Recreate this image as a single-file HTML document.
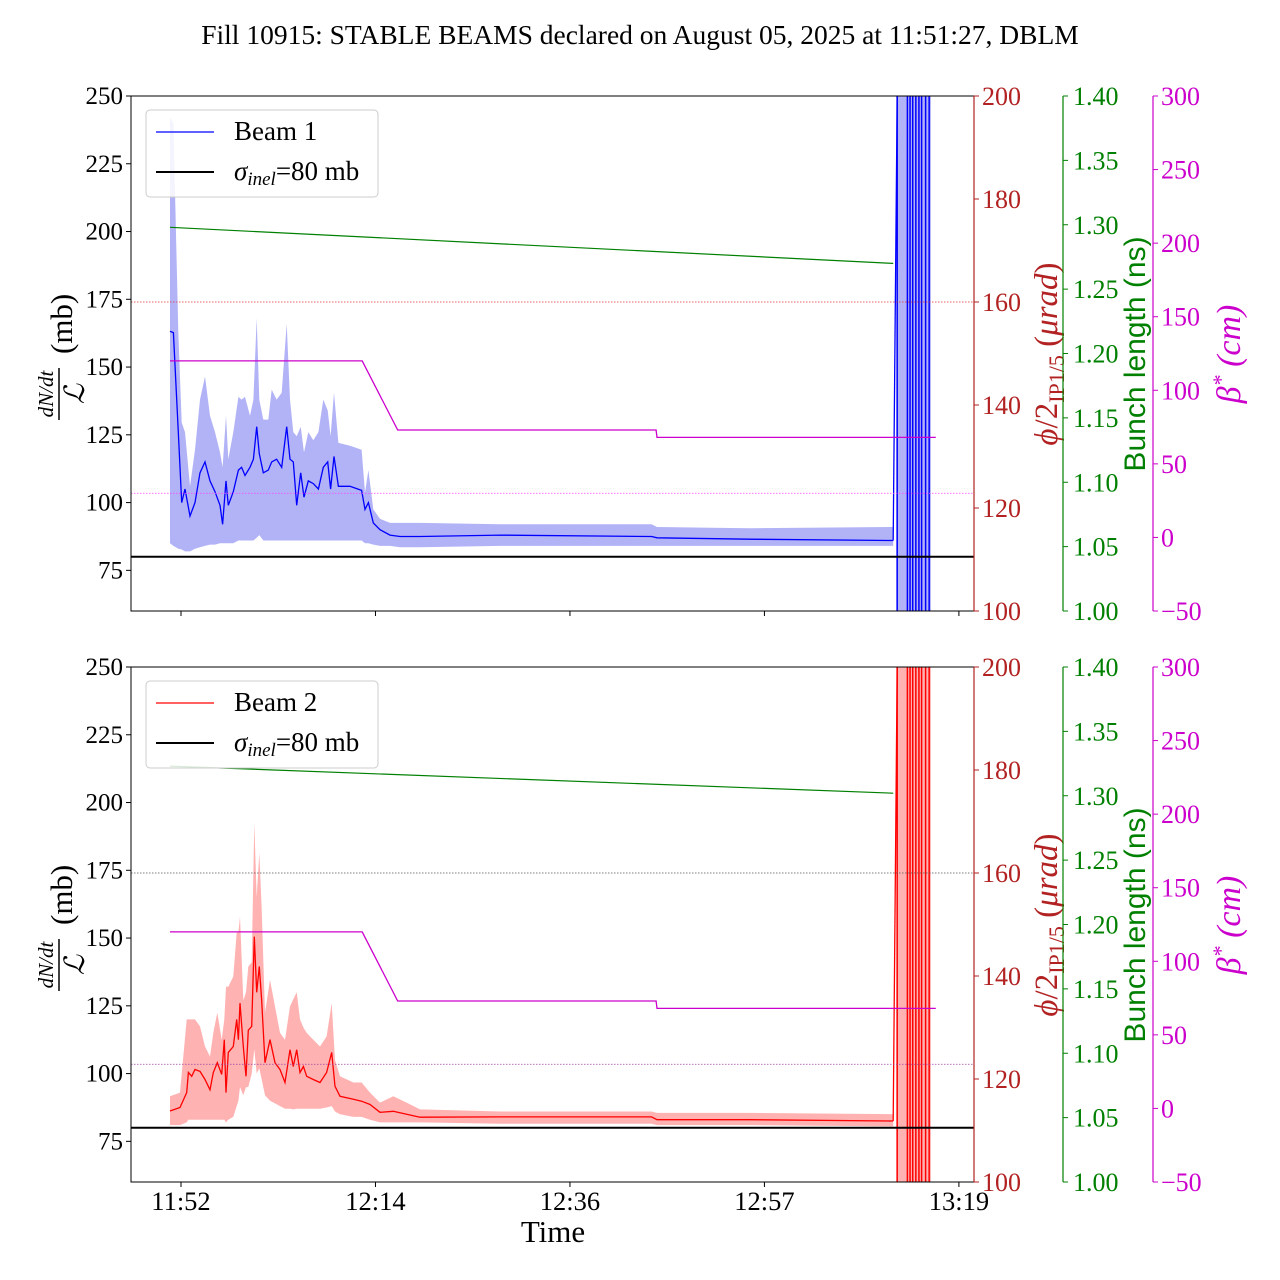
<!DOCTYPE html>
<html><head><meta charset="utf-8"><style>
html,body{margin:0;padding:0;background:#fff;}
svg{display:block;font-family:"Liberation Serif",serif;}
</style></head><body>
<svg id="chart" width="1280" height="1280" viewBox="0 0 1280 1280" xmlns="http://www.w3.org/2000/svg">
<text x="640" y="44" font-size="27.5" text-anchor="middle">Fill 10915: STABLE BEAMS declared on August 05, 2025 at 11:51:27, DBLM</text>
<g id="p1"></g>
<g id="p2"></g>
</svg>
<script>
// ---- data (time in minutes after 11:50) ----
const xTickVals = [2, 23.9, 45.8, 67.7, 89.6];
const xTickLabels = ["11:52", "12:14", "12:36", "12:57", "13:19"];
const leftTicks = [75, 100, 125, 150, 175, 200, 225, 250];
const phiTicks = [100, 120, 140, 160, 180, 200];
const blTicks = [1.00, 1.05, 1.10, 1.15, 1.20, 1.25, 1.30, 1.35, 1.40];
const betaTicks = [-50, 0, 50, 100, 150, 200, 250, 300];

const b1Time = [0.76,1.14,1.70,2.08,2.45,3.01,3.58,4.14,4.70,5.27,5.83,6.39,6.69,7.07,7.33,7.89,8.46,8.83,9.21,9.77,10.15,10.52,10.82,11.27,11.83,12.21,12.77,13.34,13.90,14.27,14.65,15.03,15.48,15.85,16.34,16.90,17.47,18.03,18.52,18.85,19.23,19.72,21.03,22.34,22.72,23.10,23.66,24.41,25.54,26.66,28.91,38,55,55.6,66,82.2];
const b1Mean = [163.2,162.7,126,100,105,95,100,111,115,108,104,99,92,108,99,104,112,113,110,113,116,128,118,111,112,115,116,113,128,116,115,99,111,102,108,107,105,113,115,105,117,106,106,104.5,97.5,100,92.5,90,88,87.5,87.5,88,87.5,87,86.5,86];
const b1Hi = [242,240,163,129.5,126,106,119.5,138,146.5,132,126,118.5,113,132,116,126,139,138,139,132,138,168,138,130.6,130.6,141.7,138,140.5,166,138,126,124.5,128,118.5,126,123,126,138,134,124.5,140.5,122,121,119.5,103.7,112,97.5,94,92.5,92.5,92.5,92,92,91,90.5,91];
const b1Lo = [85,84,83,82.7,82,82,83,83.5,84,84.5,84.5,85,85,85,85,85,86,86,86,86,86,87,88,86,86,86,86,86,86,86,86,86,86,86,86,86,86,86,86,86,86,86,86,86,85,85,84.5,84,84,83.5,83.5,84,84,84,84,84];

const b2Time = [0.76,1.89,2.64,2.83,3.20,3.58,4.14,4.70,5.27,5.64,6.09,6.58,6.88,7.07,7.33,7.89,8.27,8.46,8.64,9.02,9.32,9.58,9.96,10.26,10.52,10.82,11.08,11.46,12.02,12.59,13.15,13.71,14.27,14.65,15.03,15.40,15.78,16.15,16.90,17.65,18.40,18.97,19.34,19.91,21.41,22.34,23.28,24.41,25.91,27.41,28.91,38,55,55.6,66,82.2];
const b2Mean = [86.2,87.5,93,100.4,99,101.5,100.8,97.8,94,100.4,104,99.7,112.5,93,107.8,110,120,112.5,126,110,99,116,117.4,150.5,130,139.5,127.4,104,112.5,104,101.5,96.7,108.8,102.6,108.8,100.4,102.6,99,97.8,96.7,100.4,107.8,95.3,91.6,90.5,89.8,88.6,85.7,86.1,85,83.9,84,84,83,83,82.5];
const b2Hi = [91.6,93,120,120,120,120,117.4,110,106.3,115,122.5,112.5,120,132,132,135.8,152,152,158,127,130,139.5,141,192.5,165,181.5,161.6,122.5,134.6,124.8,115,112.5,124.8,127.4,130,120,117,115,112.5,110,113.7,126,105,99,96.7,96.7,93,89.3,91.6,89.3,86.8,86,86,85.5,85.5,85];
const b2Lo = [81,81,82,83,83,83,83,83,83,83,83,83,83,82,83,84,88,90,95,92,95,95,100,109,100,102,98,92,90,89,88,87,87,86.8,87,87,87,87,87,87,87.5,88,86,85,84,84,83,82,82,82,82,81.5,81.5,81,81,80.5];

const spikeTimes = [82.65, 83.8, 84.1, 84.4, 84.75, 85.1, 85.4, 85.85, 86.25];
const spikeBand = [82.55, 86.45];

const blTime1 = [0.76, 82.2];
const blVals1 = [1.298, 1.270];
const blTime2 = [0.76, 82.2];
const blVals2 = [1.323, 1.302];

const betaTime = [0.76, 22.4, 26.4, 55.5, 55.6, 87.0];
const betaVals = [120, 120, 73, 73, 68, 68];

const phiRef = 160;
const betaRef = 30;
const sigmaInel = 80;

// ---- scales ----
const X0 = 131, X1 = 974;
const xMin = -3.63, xMax = 91.3;
function xs(m){ return X0 + (m - xMin) / (xMax - xMin) * (X1 - X0); }
const NS = "http://www.w3.org/2000/svg";
function mk(tag, attrs, parent){ const e = document.createElementNS(NS, tag); for (const k in attrs) e.setAttribute(k, attrs[k]); parent.appendChild(e); return e; }

function panel(g, top, beam, tArr, mArr, hArr, lArr, col, fillCol, blT, blV, refCol, showX){
  const bot = top + 515;
  const yL = v => bot - (v - 60) / 190 * 515;
  const yPhi = v => bot - (v - 100) / 100 * 515;
  const yBL = v => bot - (v - 1.0) / 0.4 * 515;
  const yB = v => bot - (v + 50) / 350 * 515;
  const clip = mk('clipPath', {id: 'clip' + beam}, g);
  mk('rect', {x: X0, y: top, width: X1 - X0, height: 515}, clip);
  const plot = mk('g', {'clip-path': 'url(#clip' + beam + ')'}, g);
  
  

  let d = '';
  tArr.forEach((t, i) => { d += (i ? 'L' : 'M') + xs(t).toFixed(1) + ' ' + yL(hArr[i]).toFixed(1); });
  for (let i = tArr.length - 1; i >= 0; i--) d += 'L' + xs(tArr[i]).toFixed(1) + ' ' + yL(lArr[i]).toFixed(1);
  const band = mk('path', {d: d + 'Z', fill: fillCol, stroke: 'none'}, plot);
  
  
  const sb = mk('rect', {x: xs(spikeBand[0]), y: top, width: xs(spikeBand[1]) - xs(spikeBand[0]), height: 515, fill: fillCol}, plot);
  
  

  let dm = '';
  tArr.forEach((t, i) => { dm += (i ? 'L' : 'M') + xs(t).toFixed(1) + ' ' + yL(mArr[i]).toFixed(1); });
  const ml = mk('path', {d: dm, fill: 'none', stroke: col, 'stroke-width': 1.3}, plot);
  
  
  spikeTimes.forEach(t => {
    const s = mk('line', {x1: xs(t), x2: xs(t), y1: top, y2: bot, stroke: col, 'stroke-width': 1.5}, plot);
    
    
  });
  const ramp = mk('line', {x1: xs(tArr[tArr.length-1]), y1: yL(mArr[mArr.length-1]), x2: xs(spikeTimes[0]), y2: top, stroke: col, 'stroke-width': 1.3}, plot);
  
  

  const r1 = mk('line', {x1: X0, x2: X1, y1: yPhi(phiRef), y2: yPhi(phiRef), stroke: refCol[0], 'stroke-width': 0.8, 'stroke-dasharray': '1.5 1.5'}, plot);
  
  
  const r2 = mk('line', {x1: X0, x2: X1, y1: yB(betaRef), y2: yB(betaRef), stroke: refCol[1], 'stroke-width': 0.8, 'stroke-dasharray': '1.5 1.5'}, plot);
  
  

  let db = '';
  blT.forEach((t, i) => { db += (i ? 'L' : 'M') + xs(t).toFixed(1) + ' ' + yBL(blV[i]).toFixed(1); });
  const bl = mk('path', {d: db, fill: 'none', stroke: 'green', 'stroke-width': 1.2}, plot);
  
  
  let dbt = '';
  betaTime.forEach((t, i) => { dbt += (i ? 'L' : 'M') + xs(t).toFixed(1) + ' ' + yB(betaVals[i]).toFixed(1); });
  const bt = mk('path', {d: dbt, fill: 'none', stroke: '#c0c', 'stroke-width': 1.3}, plot);
  
  
  const si = mk('line', {x1: X0, x2: X1, y1: yL(sigmaInel), y2: yL(sigmaInel), stroke: '#000', 'stroke-width': 2}, plot);
  
  

  const fr = mk('path', {d: `M${X1} ${top}H${X0}V${bot}H${X1}`, fill: 'none', stroke: '#000', 'stroke-width': 1}, g);
  
  

  leftTicks.forEach(v => {
    const y = yL(v);
    mk('line', {x1: X0 - 5, x2: X0, y1: y, y2: y, stroke: '#000'}, g);
    const t = mk('text', {x: X0 - 8, y: y + 8, 'font-size': 25, 'text-anchor': 'end'}, g);
    t.textContent = v;
    
    
  });
  const yl = mk('g', {transform: `translate(62 ${top + 258}) rotate(-90)`}, g);
  
  
  const fn = mk('text', {x: -40, y: -9, 'font-size': 21, 'font-style': 'italic', 'text-anchor': 'middle'}, yl); fn.textContent = 'dN/dt';
  mk('line', {x1: -66, x2: -14, y1: -3, y2: -3, stroke: '#000', 'stroke-width': 1.5}, yl);
  const fl = mk('text', {x: -40, y: 22, 'font-size': 28, 'font-style': 'italic', 'text-anchor': 'middle'}, yl); fl.textContent = 'ℒ';
  const mb = mk('text', {x: 0, y: 10, 'font-size': 31, 'text-anchor': 'start'}, yl); mb.textContent = '(mb)';

  const phiSp = mk('line', {x1: X1, x2: X1, y1: top, y2: bot, stroke: '#b22222', 'stroke-width': 1.2}, g);
  
  
  phiTicks.forEach(v => {
    const y = yPhi(v);
    mk('line', {x1: X1, x2: X1 + 5, y1: y, y2: y, stroke: '#b22222'}, g);
    const t = mk('text', {x: X1 + 8, y: y + 9, 'font-size': 26, fill: '#b22222'}, g);
    t.textContent = v;
    
    
  });
  const pl = mk('text', {transform: `translate(1057 ${top + 258}) rotate(-90)`, 'font-size': 33, fill: '#b22222', 'text-anchor': 'middle'}, g);
  pl.innerHTML = '<tspan font-style="italic">ϕ</tspan>/2<tspan font-size="22" dy="7">IP1/5</tspan><tspan dy="-7"> (</tspan><tspan font-style="italic">μrad</tspan>)';
  
  

  const GX = 1063;
  const gs = mk('line', {x1: GX, x2: GX, y1: top, y2: bot, stroke: 'green', 'stroke-width': 1.2}, g);
  
  
  blTicks.forEach(v => {
    const y = yBL(v);
    mk('line', {x1: GX, x2: GX + 5, y1: y, y2: y, stroke: 'green'}, g);
    const t = mk('text', {x: GX + 10, y: y + 9, 'font-size': 26, fill: 'green'}, g);
    t.textContent = v.toFixed(2);
    
    
  });
  const gl = mk('text', {transform: `translate(1145 ${top + 258}) rotate(-90)`, 'font-size': 30, fill: 'green', 'text-anchor': 'middle', 'font-family': '"Liberation Sans", sans-serif'}, g);
  gl.textContent = 'Bunch length (ns)';
  
  

  const MX = 1153;
  const ms = mk('line', {x1: MX, x2: MX, y1: top, y2: bot, stroke: '#c0c', 'stroke-width': 1.2}, g);
  
  
  betaTicks.forEach(v => {
    const y = yB(v);
    mk('line', {x1: MX, x2: MX + 5, y1: y, y2: y, stroke: '#c0c'}, g);
    const t = mk('text', {x: MX + 8, y: y + 9, 'font-size': 26, fill: '#c0c'}, g);
    t.textContent = v < 0 ? '−' + (-v) : v;
    
    
  });
  const bll = mk('text', {transform: `translate(1240 ${top + 258}) rotate(-90)`, 'font-size': 34, fill: '#c0c', 'text-anchor': 'middle', 'font-style': 'italic'}, g);
  bll.innerHTML = 'β<tspan font-size="22" dy="-12">*</tspan><tspan dy="12"> (cm)</tspan>';
  
  

  xTickVals.forEach((v, i) => {
    const x = xs(v);
    mk('line', {x1: x, x2: x, y1: bot, y2: bot + 5, stroke: '#000'}, g);
    if (showX) {
      const t = mk('text', {x: x, y: bot + 28, 'font-size': 26.5, 'text-anchor': 'middle'}, g);
      t.textContent = xTickLabels[i];
      
      
    }
  });

  const lg = mk('g', {}, g);
  
  
  mk('rect', {x: 146, y: top + 14, width: 232, height: 87, rx: 4, fill: '#fff', 'fill-opacity': 0.85, stroke: '#ccc'}, lg);
  mk('line', {x1: 156, x2: 214, y1: top + 36, y2: top + 36, stroke: col, 'stroke-width': 1.3}, lg);
  const l1 = mk('text', {x: 234, y: top + 44, 'font-size': 27}, lg); l1.textContent = 'Beam ' + beam;
  
  
  mk('line', {x1: 156, x2: 214, y1: top + 76, y2: top + 76, stroke: '#000', 'stroke-width': 2}, lg);
  const l2 = mk('text', {x: 234, y: top + 84, 'font-size': 27}, lg);
  l2.innerHTML = '<tspan font-style="italic">σ</tspan><tspan font-style="italic" font-size="19" dy="5">inel</tspan><tspan dy="-5">=80 mb</tspan>';
  
  
}

panel(document.getElementById('p1'), 96, 1, b1Time, b1Mean, b1Hi, b1Lo, '#0000ff', 'rgba(0,0,230,0.3)', blTime1, blVals1, ['#e03030', '#ff40ff'], false);
panel(document.getElementById('p2'), 667, 2, b2Time, b2Mean, b2Hi, b2Lo, '#ff0000', 'rgba(255,0,0,0.3)', blTime2, blVals2, ['#555', '#a040a0'], true);

const svg = document.getElementById('chart');
const xt = mk('text', {x: 553, y: 1242, 'font-size': 31, 'text-anchor': 'middle'}, svg);
xt.textContent = 'Time';


</script>
</body></html>
